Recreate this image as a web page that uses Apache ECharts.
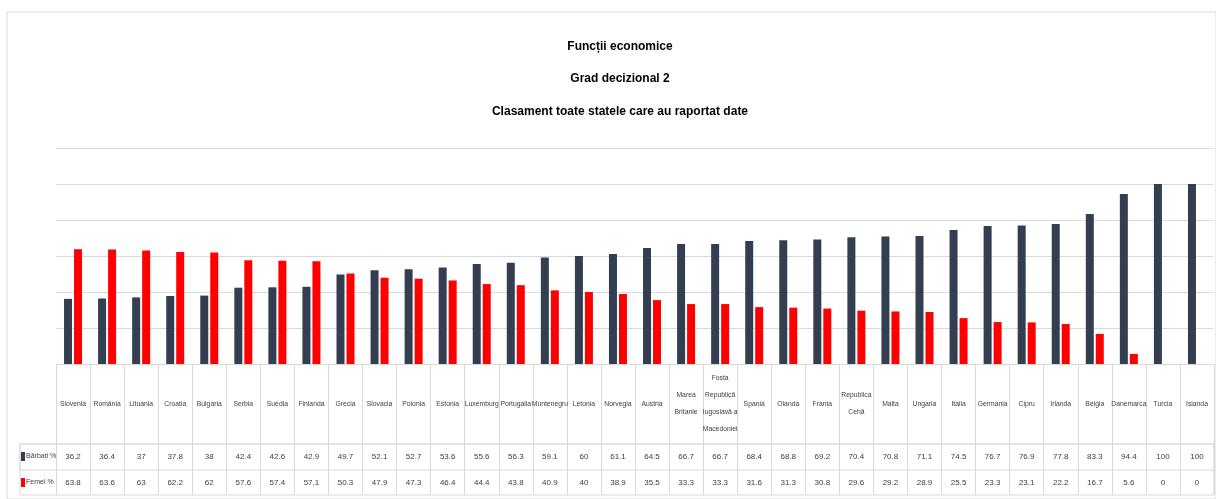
<!DOCTYPE html>
<html>
<head>
<meta charset="utf-8">
<script src="https://cdn.jsdelivr.net/npm/echarts@6/dist/echarts.min.js"></script>
<style>
  html, body { margin: 0; padding: 0; background: #fff; }
  #chart { width: 1216px; height: 499px; }
</style>
</head>
<body>
<div id="chart"></div>
<script>
// categories (countries), in the order of the table
var countries = [
  'Slovenia', 'România', 'Lituania', 'Croația', 'Bulgaria', 'Serbia', 'Suedia',
  'Finlanda', 'Grecia', 'Slovacia', 'Polonia', 'Estonia', 'Luxemburg', 'Portugalia',
  'Muntenegru', 'Letonia', 'Norvegia', 'Austria', 'Marea\nBritanie',
  'Fosta\nRepublică\nIugoslavă a\nMacedoniei', 'Spania', 'Olanda', 'Franța',
  'Republica\nCehă', 'Malta', 'Ungaria', 'Italia', 'Germania', 'Cipru', 'Irlanda',
  'Belgia', 'Danemarca', 'Turcia', 'Islanda'
]
var barbati = [
  36.2, 36.4, 37, 37.8, 38, 42.4, 42.6, 42.9, 49.7, 52.1, 52.7, 53.6, 55.6, 56.3,
  59.1, 60, 61.1, 64.5, 66.7, 66.7, 68.4, 68.8, 69.2, 70.4, 70.8, 71.1, 74.5, 76.7,
  76.9, 77.8, 83.3, 94.4, 100, 100
]
var femei = [
  63.8, 63.6, 63, 62.2, 62, 57.6, 57.4, 57.1, 50.3, 47.9, 47.3, 46.4, 44.4, 43.8,
  40.9, 40, 38.9, 35.5, 33.3, 33.3, 31.6, 31.3, 30.8, 29.6, 29.2, 28.9, 25.5, 23.3,
  23.1, 22.2, 16.7, 5.6, 0, 0
]
var titleLines = ['Funcții economice', 'Grad decizional 2', 'Clasament toate statele care au raportat date']

var lineColor = '#d9d9d9'
var textColor = '#404040'
var font = '"Liberation Sans", Arial, sans-serif'

var chart = echarts.init(document.getElementById('chart'))

// extra category axes on the plot grid, used as the value rows of the table
function valueAxis(values, offset, margin) {
  return {
    type: 'category',
    gridIndex: 0,
    position: 'bottom',
    offset: offset,
    data: countries,
    axisLine: { show: false },
    axisTick: { show: false },
    axisLabel: {
      interval: 0,
      margin: margin,
      verticalAlign: 'middle',
      color: textColor,
      fontFamily: font,
      fontSize: 8,
      formatter: function (v, i) { return String(values[i]) }
    }
  }
}

function hiddenAxis(type, idx) {
  return { type: type, gridIndex: idx, show: false }
}

function rowLegend(name, top) {
  return {
    data: [name],
    left: 21,
    top: top,
    padding: 0,
    icon: 'rect',
    itemWidth: 4,
    itemHeight: 9,
    textStyle: { fontFamily: font, fontSize: 7, color: textColor, padding: [0, 0, 0, -4] }
  }
}

chart.setOption({
  animation: false,
  title: {
    text: titleLines.join('\n'),
    left: 615,
    textAlign: 'center',
    top: 25,
    textStyle: {
      fontFamily: font,
      fontSize: 12,
      fontWeight: 'bold',
      color: '#000',
      lineHeight: 32.5
    }
  },
  legend: [rowLegend('Bărbați %', 452), rowLegend('Femei %', 478)],
  grid: [
    { left: 56, right: 2, top: 148, bottom: 135 },
    { left: 20, right: 2, top: 444, height: 51, show: true, borderColor: lineColor, borderWidth: 1 },
    { left: 20, right: 2, top: 444, height: 26, show: true, borderColor: lineColor, borderWidth: 1 },
    { left: 7, top: 12, right: -10, bottom: -10, show: true, borderColor: lineColor, borderWidth: 1 }
  ],
  xAxis: [
    {
      type: 'category',
      gridIndex: 0,
      data: countries,
      axisLine: { lineStyle: { color: lineColor } },
      axisTick: { show: true, length: 131, lineStyle: { color: lineColor } },
      axisLabel: {
        interval: 0,
        margin: 40,
        verticalAlign: 'middle',
        color: textColor,
        fontFamily: font,
        fontSize: 6.8,
        lineHeight: 17
      }
    },
    valueAxis(barbati, 80, 13),
    valueAxis(femei, 106, 12.5),
    hiddenAxis('category', 1),
    hiddenAxis('category', 2),
    hiddenAxis('category', 3)
  ],
  yAxis: [
    {
      type: 'value',
      gridIndex: 0,
      min: 0,
      max: 120,
      interval: 20,
      axisLabel: { show: false },
      axisLine: { show: false },
      axisTick: { show: false },
      splitLine: { lineStyle: { color: lineColor } }
    },
    hiddenAxis('value', 1),
    hiddenAxis('value', 2),
    hiddenAxis('value', 3)
  ],
  series: [
    {
      name: 'Bărbați %',
      type: 'bar',
      data: barbati,
      barWidth: 8,
      barGap: '25%',
      itemStyle: { color: '#333f50' }
    },
    {
      name: 'Femei %',
      type: 'bar',
      data: femei,
      barWidth: 8,
      itemStyle: { color: '#ff0000' }
    }
  ]
})
</script>
</body>
</html>
